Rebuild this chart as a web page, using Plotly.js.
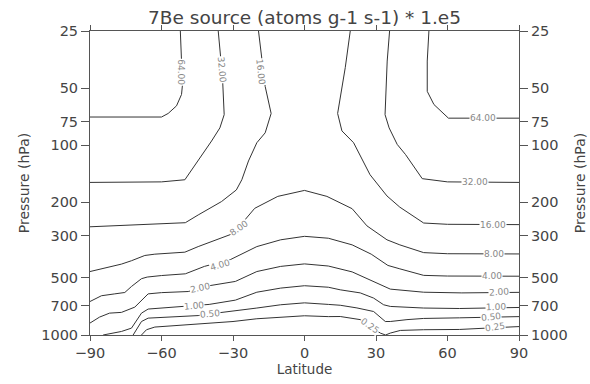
<!DOCTYPE html>
<html><head><meta charset="utf-8">
<script src="https://cdn.plot.ly/plotly-3.0.1.min.js"></script>
<style>html,body{margin:0;padding:0;background:#fff;}#chart{width:590px;height:384px;}</style>
</head><body><div id="chart"></div>
<script>
// ---- axis ticks ----
const latTicks = [-90, -60, -30, 0, 30, 60, 90];
const presTicks = [25, 50, 75, 100, 200, 300, 500, 700, 1000];

// ---- contour lines (latitude, pressure hPa) ----
const lat64a = [-90, -60, -57.2, -53.7, -51.6, -51.2, -51.6, -52.1];
const p64a   = [71, 71, 68, 62, 54, 48, 36, 25];
const lat64b = [52.2, 51.5, 51.5, 54.3, 60.4, 90];
const p64b   = [25, 36, 52, 61, 72, 72];

const lat32a = [-90, -60, -50.2, -44.6, -39, -35.5, -33.7, -34.4, -36.2];
const p32a   = [157, 156, 152, 121, 95, 81, 69, 44, 25];
const lat32b = [35.7, 34.7, 33.8, 35.5, 38.9, 42.4, 49.4, 60, 90];
const p32b   = [25, 36, 69, 81, 99, 112, 150, 156, 157];

const lat16a = [-90, -70, -50, -44.6, -34.8, -28.6, -26.3, -23.5, -20, -16.5, -14, -16.5, -17.9, -19.3];
const p16a   = [269, 263, 256, 233, 198, 172, 152, 121, 97, 86, 68, 49, 36, 25];
const lat16b = [19.2, 17.1, 13.9, 15.7, 20.6, 27.5, 34.6, 40, 50, 60, 90];
const p16b   = [25, 39, 68, 84, 97, 143, 185, 212, 257, 261, 262];

const lat8 = [-90, -76.8, -72.6, -67, -62.8, -50.2, -44.6, -34.8, -30.6, -27.9, -20.9, -11.2, 0, 9.4, 20, 26.2, 34.6, 40, 50, 60, 90];
const p8   = [463, 423, 406, 381, 375, 366, 342, 309, 294, 273, 215, 186, 173, 186, 216, 266, 315, 335, 368, 373, 374];

const lat4 = [-90, -85.2, -79.6, -75.4, -72.6, -68.4, -66, -60, -50, -42, -31, -20, -10, 0, 10, 20, 28, 35, 40, 50, 60, 90];
const p4   = [666, 621, 607, 597, 555, 505, 495, 486, 476, 435, 400, 342, 315, 302, 309, 335, 375, 430, 448, 485, 489, 490];

const lat2 = [-90, -86, -81.8, -76.8, -71.2, -65.6, -60, -48.8, -40, -29, -20, -10, 0, 10, 20, 27.6, 36, 50, 66, 90];
const p2   = [865, 805, 767, 760, 713, 607, 598, 590, 550, 522, 463, 435, 422, 433, 465, 513, 573, 595, 600, 596];

const lat1 = [-84.5, -81, -76.8, -72.6, -68.4, -65.6, -60, -50.2, -40, -29, -20, -10, 0, 10, 15, 23.4, 29, 33.2, 36, 50, 65, 90];
const p1   = [1000, 977, 958, 920, 767, 730, 720, 707, 690, 655, 595, 566, 550, 560, 578, 600, 639, 693, 707, 721, 725, 716];

const lat05 = [-71.9, -68.4, -65.6, -60, -50, -44.6, -40, -30, -20, -10, 0, 10, 15, 22, 29, 33.9, 36, 43, 50, 65, 90];
const p05   = [1000, 849, 815, 808, 800, 790, 775, 750, 721, 693, 677, 690, 697, 720, 752, 849, 849, 830, 818, 812, 800];

const lat025 = [-68.4, -66.3, -62.8, -50, -40.3, -30, -20, -10, 0, 10, 15, 23.4, 27.6, 31.8, 34, 36, 40.2, 50, 65, 80, 90];
const p025   = [1000, 938, 908, 885, 866, 849, 821, 808, 792, 800, 799, 830, 895, 977, 1000, 977, 946, 938, 935, 915, 903];

// ---- contour labels ----
const labelText = ['64.00', '32.00', '16.00', '64.00', '32.00', '16.00', '8.00', '4.00', '2.00', '1.00', '0.50', '0.25',
                   '8.00', '4.00', '2.00', '1.00', '0.50', '0.25'];
const labelLat  = [-51.6, -34.6, -18.3, 75.1, 71.7, 79, 79.7, 78.5, 81.8, 80.5, 78.4, 80.1,
                   -27.4, -35.4, -43.8, -46.3, -39.6, 27.6];
const labelP    = [41, 40, 41, 72, 157, 262, 374, 490, 596, 716, 803, 912,
                   274, 427, 564, 701, 775, 895];

// ---- drawing ----
const lineStyle = {color: '#333', width: 1};
const segs = [
  [lat64a, p64a, 'y'], [lat64b, p64b, 'y2'],
  [lat32a, p32a, 'y'], [lat32b, p32b, 'y2'],
  [lat16a, p16a, 'y'], [lat16b, p16b, 'y2'],
  [lat8, p8, 'y'], [lat4, p4, 'y'], [lat2, p2, 'y'],
  [lat1, p1, 'y'], [lat05, p05, 'y'], [lat025, p025, 'y']
];
const traces = segs.map(s => ({
  type: 'scatter', mode: 'lines', x: s[0], y: s[1], yaxis: s[2],
  line: lineStyle, hoverinfo: 'skip', showlegend: false
}));

const angles = [90, 85, 84, 0, 0, 0, 0, 0, -4, -2, -6, -8, -35, -16, -12, -5, -5, 35];
const annotations = labelText.map((t, i) => ({
  xref: 'x', yref: 'y', x: labelLat[i], y: Math.log10(labelP[i]),
  text: t, showarrow: false, textangle: angles[i],
  bgcolor: 'white', borderpad: 0,
  font: {family: 'DejaVu Sans', size: 9, color: '#888'}
}));

const axColor = '#555';
const tickFont = {family: 'DejaVu Sans', size: 14.5, color: '#444'};
const yRange = [3, Math.log10(25)];
const yBase = {
  type: 'log', range: yRange, tickvals: presTicks, ticktext: presTicks.map(String),
  ticks: 'outside', ticklen: 8, tickcolor: axColor, showline: true, linecolor: axColor, linewidth: 1,
  showgrid: false, zeroline: false, tickfont: tickFont,
  title: {text: 'Pressure (hPa)', font: {family: 'DejaVu Sans', size: 14, color: '#444'}, standoff: 8}
};

const layout = {
  width: 590, height: 384,
  margin: {l: 90, r: 71, t: 31, b: 49},
  paper_bgcolor: 'white', plot_bgcolor: 'white',
  title: {text: '7Be source (atoms g-1 s-1) * 1.e5', x: 0.5, xref: 'paper', y: 0.955, yref: 'container', yanchor: 'middle',
          font: {family: 'DejaVu Sans', size: 18.5, color: '#444'}},
  xaxis: {
    range: [-90, 90], tickvals: latTicks, ticks: 'outside', ticklen: 5, tickcolor: axColor,
    showline: true, linecolor: axColor, linewidth: 1, mirror: 'ticks',
    showgrid: false, zeroline: false, tickfont: tickFont,
    title: {text: 'Latitude', font: {family: 'DejaVu Sans', size: 13.5, color: '#444'}, standoff: 2}
  },
  yaxis: Object.assign({}, yBase, {side: 'left'}),
  yaxis2: Object.assign({}, yBase, {side: 'right', overlaying: 'y'}),
  annotations: annotations
};

Plotly.newPlot('chart', traces, layout, {staticPlot: true, displayModeBar: false});
</script>
</body></html>
